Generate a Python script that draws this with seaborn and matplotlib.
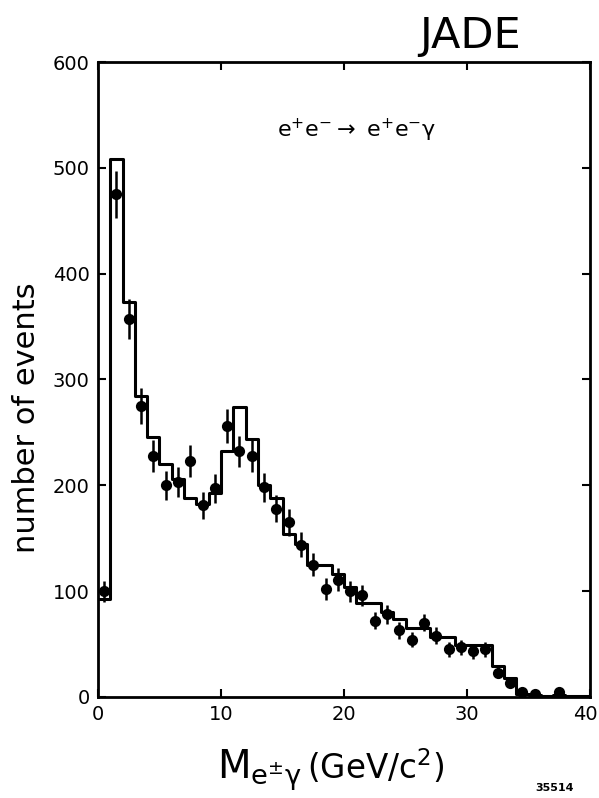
import numpy as np
import pandas as pd
import matplotlib
matplotlib.use("Agg")
import matplotlib.pyplot as plt
import matplotlib.transforms as mtransforms
import seaborn as sns

# Monte Carlo expectation: 1 GeV bins from 0 to 40 GeV/c^2
bin_edges = list(range(0, 41))
mc_counts = [93, 508, 373, 284, 246, 220, 206, 188, 182, 193,
             232, 274, 244, 200, 188, 154, 145, 125, 125, 116,
             104, 89, 89, 80, 74, 65, 65, 57, 57, 49,
             49, 49, 29, 18, 3, 2, 1, 2, 1, 1]

# Measured events at bin centres with statistical errors
data_mass = [0.5, 1.5, 2.5, 3.5, 4.5, 5.5, 6.5, 7.5, 8.5, 9.5,
             10.5, 11.5, 12.5, 13.5, 14.5, 15.5, 16.5, 17.5, 18.5, 19.5,
             20.5, 21.5, 22.5, 23.5, 24.5, 25.5, 26.5, 27.5, 28.5, 29.5,
             30.5, 31.5, 32.5, 33.5, 34.5, 35.5, 37.5]
data_counts = [100, 475, 357, 275, 228, 200, 203, 223, 181, 197,
               256, 232, 228, 198, 178, 165, 144, 125, 102, 111,
               100, 96, 72, 78, 63, 54, 70, 58, 45, 47,
               43, 45, 23, 13, 5, 3, 5]
data_errors = [10, 22, 19, 17, 15, 14, 14, 15, 13, 14,
               16, 15, 15, 14, 13, 13, 12, 11, 10, 11,
               10, 10, 8, 9, 8, 7, 8, 8, 7, 7,
               7, 7, 5, 4, 2, 2, 2]

x_ticks = [0, 10, 20, 30, 40]
y_ticks = [0, 100, 200, 300, 400, 500, 600]

sns.set_theme(style="ticks")
plt.rcParams["font.family"] = ["DejaVu Sans"]
plt.rcParams["mathtext.default"] = "regular"
plt.rcParams["text.color"] = "black"
plt.rcParams["axes.labelcolor"] = "black"

fig = plt.figure(figsize=(5.99, 7.98), dpi=100)
ax = fig.add_axes([0.1636, 0.1266, 0.8214, 0.7957])

mc = pd.DataFrame({"mass": [0.5 * (a + b) for a, b in zip(bin_edges[:-1], bin_edges[1:])],
                   "counts": mc_counts})
sns.histplot(data=mc, x="mass", weights="counts", bins=bin_edges,
             element="step", fill=False, color="black", linewidth=2.2, ax=ax)

meas = pd.DataFrame({"mass": data_mass, "counts": data_counts, "err": data_errors})
ax.errorbar(meas["mass"], meas["counts"], yerr=meas["err"], fmt="none",
            ecolor="black", elinewidth=1.8, capsize=0, zorder=3)
sns.scatterplot(data=meas, x="mass", y="counts", color="black", s=65,
                edgecolor="black", linewidth=0, zorder=4, ax=ax)

ax.set_xlim(0, 40)
ax.set_ylim(0, 600)
ax.set_xticks(x_ticks)
ax.set_yticks(y_ticks)
ax.tick_params(direction="in", length=6, width=1.5, labelsize=14,
               top=True, right=True, colors="black", labelcolor="black", pad=6)
for side in ["left", "right", "top", "bottom"]:
    ax.spines[side].set_visible(True)
    ax.spines[side].set_linewidth(2.0)
    ax.spines[side].set_color("black")

# keep the last x tick label inside the canvas
last = ax.get_xticklabels()[-1]
last.set_horizontalalignment("right")
last.set_transform(last.get_transform() +
                   mtransforms.ScaledTranslation(8 / 100, 0, fig.dpi_scale_trans))

ax.set_xlabel("")
ax.set_ylabel("number of events", fontsize=22, labelpad=8)
ax.yaxis.set_label_coords(-0.115, 0.44)

# axis title: mass symbol slightly larger than the unit
fig.text(0.362, 0.024, r"$\mathsf{M}_{e^{\pm}\gamma}$", ha="left", va="baseline",
         fontsize=28)
fig.text(0.512, 0.024, "(GeV/c$^2$)", ha="left", va="baseline", fontsize=23.5)

ax.text(0.526, 0.893, r"e$^{+}$e$^{-}$$\rightarrow$ e$^{+}$e$^{-}\gamma$",
        transform=ax.transAxes, ha="center", va="center", fontsize=16)

fig.text(0.785, 0.955, "JADE", ha="center", va="center", fontsize=31)
fig.text(0.925, 0.013, "35514", ha="center", va="center", fontsize=8, fontweight="bold")

fig.savefig("out.png", dpi=100, facecolor="white")
